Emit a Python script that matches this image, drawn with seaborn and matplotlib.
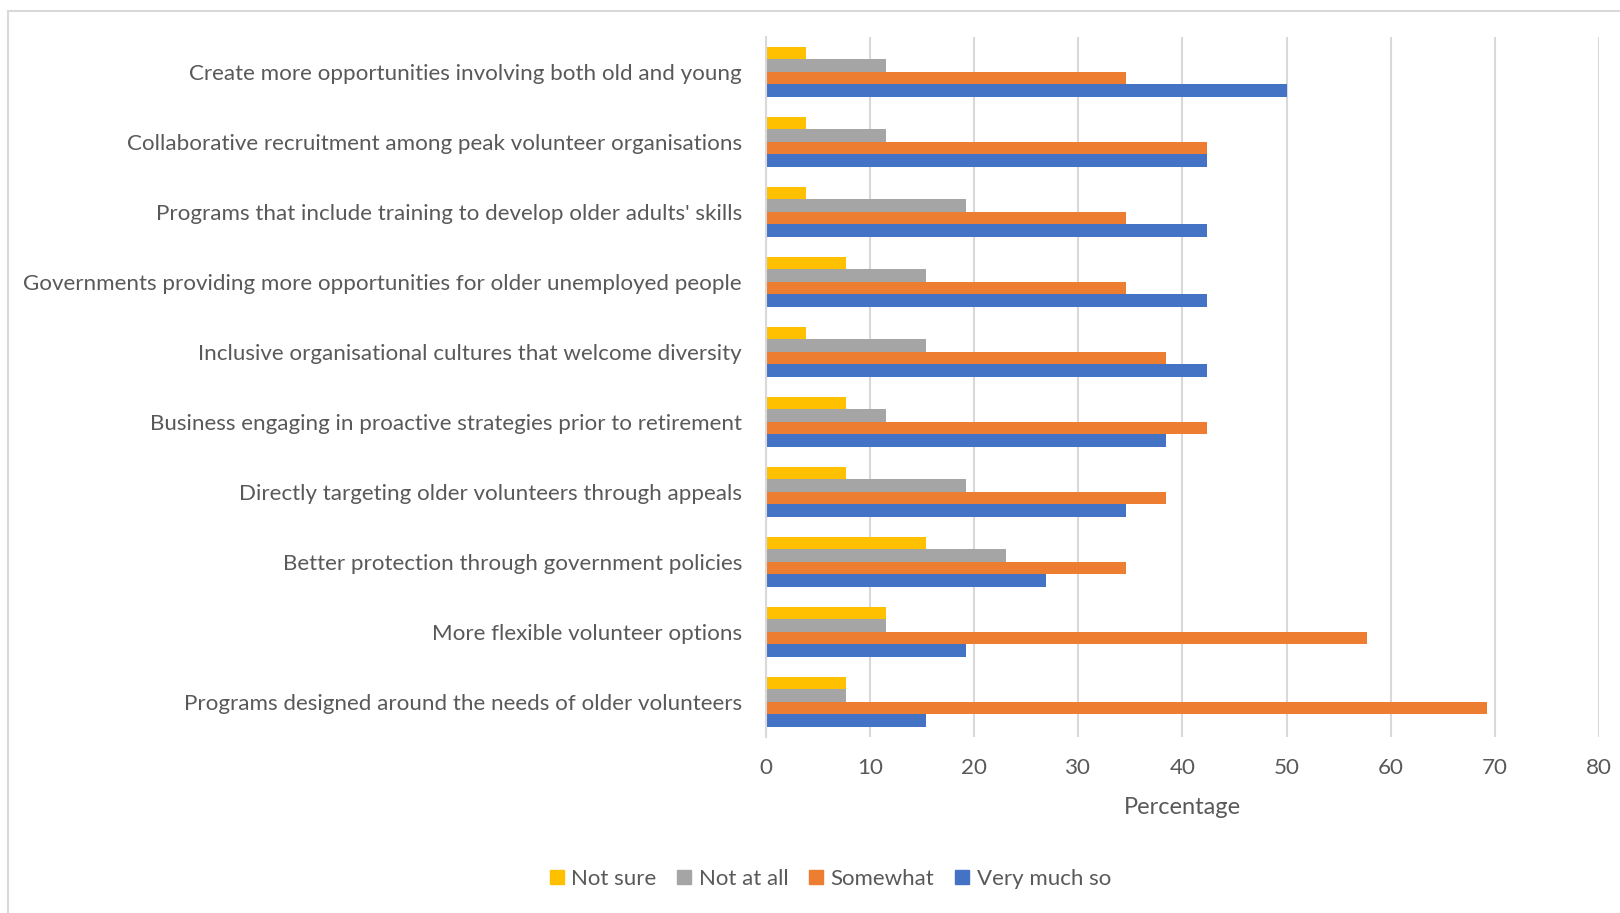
import matplotlib
matplotlib.use("Agg")
import matplotlib.pyplot as plt
import seaborn as sns
import pandas as pd
from matplotlib.patches import Rectangle
from matplotlib.lines import Line2D

categories = [
    "Create more opportunities involving both old and young",
    "Collaborative recruitment among peak volunteer organisations",
    "Programs that include training to develop older adults' skills",
    "Governments providing more opportunities for older unemployed people",
    "Inclusive organisational cultures that welcome diversity",
    "Business engaging in proactive strategies prior to retirement",
    "Directly targeting older volunteers through appeals",
    "Better protection through government policies",
    "More flexible volunteer options",
    "Programs designed around the needs of older volunteers",
]
series = ["Not sure", "Not at all", "Somewhat", "Very much so"]
not_sure = [3.85, 3.85, 3.85, 7.69, 3.85, 7.69, 7.69, 15.38, 11.54, 7.69]
not_at_all = [11.54, 11.54, 19.23, 15.38, 15.38, 11.54, 19.23, 23.08, 11.54, 7.69]
somewhat = [34.62, 42.31, 34.62, 34.62, 38.46, 42.31, 38.46, 34.62, 57.69, 69.23]
very_much = [50.0, 42.31, 42.31, 42.31, 42.31, 38.46, 34.62, 26.92, 19.23, 15.38]
x_ticks = [0, 10, 20, 30, 40, 50, 60, 70, 80]
colors = ["#FFC000", "#A5A5A5", "#ED7D31", "#4472C4"]

rows = []
for name, vals in zip(series, [not_sure, not_at_all, somewhat, very_much]):
    for cat, v in zip(categories, vals):
        rows.append({"Strategy": cat, "Response": name, "Percentage": v})
df = pd.DataFrame(rows)

sns.set_theme(style="white")
plt.rcParams["font.family"] = ["Lato", "DejaVu Sans"]
text_color = "#595959"

fig = plt.figure(figsize=(16.2, 9.13), dpi=100)
ax = fig.add_axes([0.4726, 0.193, 0.9872 - 0.4726, 0.9597 - 0.193])

sns.barplot(
    data=df, y="Strategy", x="Percentage", hue="Response",
    order=categories, hue_order=series, palette=colors,
    orient="h", width=0.71, errorbar=None, ax=ax, legend=False,
    saturation=1, linewidth=0,
)

ax.set_xlim(0, 80)
ax.set_ylim(len(categories) - 0.5, -0.5)
ax.set_xticks(x_ticks)
ax.set_xticklabels([str(t) for t in x_ticks])
ax.grid(axis="x", color="#D9D9D9", linewidth=1.5)
ax.set_axisbelow(True)
for s in ["top", "right", "bottom"]:
    ax.spines[s].set_visible(False)
ax.spines["left"].set_color("#D9D9D9")
ax.spines["left"].set_linewidth(1.5)
ax.tick_params(axis="y", length=0, labelsize=16.1, colors=text_color, pad=17)
ax.tick_params(axis="x", length=0, labelsize=16.1, colors=text_color, pad=15)
ax.set_ylabel("")
ax.set_xlabel("Percentage", fontsize=17, color=text_color, labelpad=14)

handles = [Line2D([], [], marker="s", linestyle="none", markersize=10,
                  markerfacecolor=c, markeredgecolor=c) for c in colors]
fig.legend(handles, series, loc="center", bbox_to_anchor=(0.512, 0.037),
           ncol=4, frameon=False, fontsize=16, handlelength=0.8,
           handletextpad=0.25, columnspacing=0.85, labelcolor=text_color)

fig.patches.append(Rectangle((8 / 1620, -0.05), 1.1, 1 - 11 / 913 + 0.05,
                             transform=fig.transFigure, fill=False,
                             edgecolor="#D9D9D9", linewidth=1.5))

fig.savefig("out.png", dpi=100)
